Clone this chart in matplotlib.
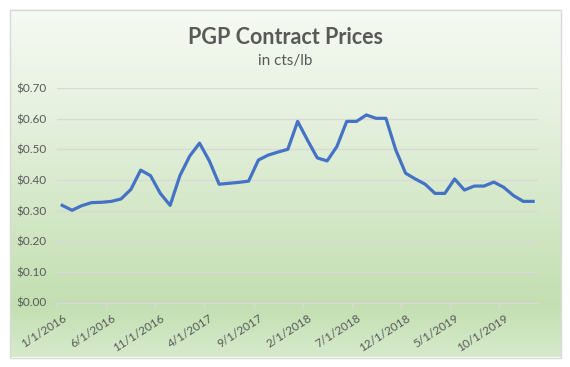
import matplotlib
matplotlib.use("Agg")
import matplotlib.pyplot as plt
import matplotlib.transforms as mtransforms
from matplotlib.patches import Rectangle
import numpy as np

title = "PGP Contract Prices"
subtitle = "in cts/lb"

# Monthly contract prices, Jan 2016 .. Jan 2020
prices = [0.317, 0.301, 0.316, 0.326, 0.327, 0.330, 0.338, 0.369, 0.432, 0.414,
          0.356, 0.317, 0.414, 0.478, 0.520, 0.462, 0.386, 0.389, 0.392, 0.396,
          0.465, 0.481, 0.491, 0.500, 0.591, 0.530, 0.472, 0.462, 0.509, 0.591,
          0.591, 0.612, 0.601, 0.601, 0.498, 0.422, 0.403, 0.386, 0.356, 0.356,
          0.403, 0.367, 0.380, 0.380, 0.393, 0.376, 0.349, 0.330, 0.330]

tick_labels = ["1/1/2016", "6/1/2016", "11/1/2016", "4/1/2017", "9/1/2017",
               "2/1/2018", "7/1/2018", "12/1/2018", "5/1/2019", "10/1/2019"]
tick_index = [0, 5, 10, 15, 20, 25, 30, 35, 40, 45]

y_ticks = [0.0, 0.1, 0.2, 0.3, 0.4, 0.5, 0.6, 0.7]

W, H = 570, 367
fig = plt.figure(figsize=(W / 100, H / 100), dpi=100)
fig.patch.set_facecolor("white")

# gradient background inside border
bg = fig.add_axes([0, 0, 1, 1], zorder=0)
bg.set_xlim(0, W)
bg.set_ylim(H, 0)
bg.axis("off")
stops = np.array([0.0, 0.30, 0.85, 1.0])
cols = np.array([[0xf6, 0xfa, 0xf3], [0xe6, 0xf1, 0xdf], [0xc3, 0xdf, 0xb1], [0xd6, 0xea, 0xcc]]) / 255.0
t = np.linspace(0, 1, 400)
grad = np.stack([np.interp(t, stops, cols[:, c]) for c in range(3)], axis=-1)
grad = grad[:, None, :]
bg.imshow(grad, extent=[9.5, 560.5, 357.5, 9.5], aspect="auto", interpolation="bilinear", zorder=0)
bg.add_patch(Rectangle((9.5, 9.5), 551, 348, fill=False, edgecolor="#d9d9d9", linewidth=1, zorder=1))

fam = ["Lato", "DejaVu Sans"]
bg.text(W / 2, 38, title, ha="center", va="center", fontsize=15.5, fontweight="bold",
        color="#595959", family=fam)
bg.text(W / 2, 61, subtitle, ha="center", va="center", fontsize=11, color="#595959", family=fam)

left, right = 57.3 / W, 538 / W
bottom, top = (H - 302.5) / H, (H - 88) / H
ax = fig.add_axes([left, bottom, right - left, top - bottom], zorder=2)
ax.patch.set_alpha(0)

x = np.arange(len(prices))
ax.plot(x, prices, color="#4472C4", linewidth=2.3, solid_joinstyle="round", zorder=3)

ax.set_xlim(-0.5, len(prices) - 0.5)
ax.set_ylim(0, 0.7)
ax.set_yticks(y_ticks)
ax.set_yticklabels([f"${v:.2f}" for v in y_ticks], fontsize=8.5, color="#595959", family=fam)
ax.grid(axis="y", color="#d9d9d9", linewidth=1)
ax.set_axisbelow(True)
for s in ["top", "right", "left"]:
    ax.spines[s].set_visible(False)
ax.spines["bottom"].set_color("#d9d9d9")
ax.spines["bottom"].set_linewidth(1)
ax.tick_params(axis="y", length=0, pad=8)
ax.tick_params(axis="x", length=4, color="#d9d9d9", width=1, direction="out", pad=2)

ax.set_xticks([i - 0.5 for i in tick_index])
ax.set_xticklabels(tick_labels, fontsize=8.5, color="#595959", family=fam,
                   rotation=33, ha="right", va="top", rotation_mode="anchor")
offset = mtransforms.ScaledTranslation(5 / 100, -2 / 100, fig.dpi_scale_trans)
for lbl in ax.get_xticklabels():
    lbl.set_transform(lbl.get_transform() + offset)

fig.savefig("out.png", dpi=100, facecolor="white")
